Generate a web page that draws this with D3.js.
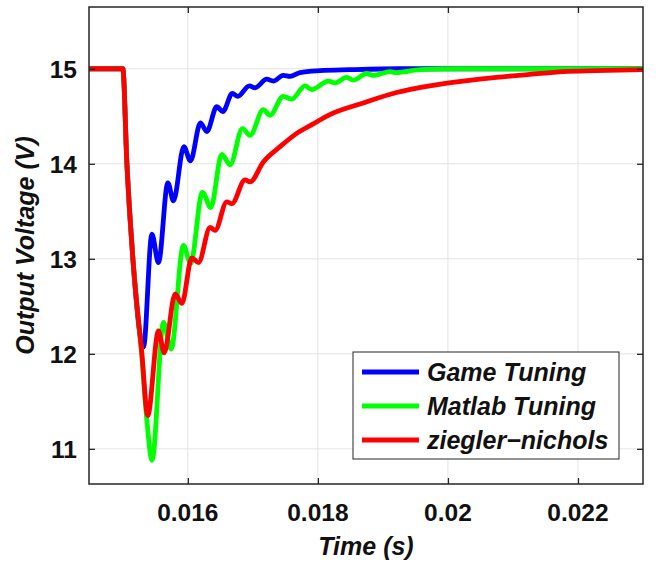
<!DOCTYPE html>
<html lang="en">
<head>
    <meta charset="UTF-8">
    <title>Output Voltage</title>
    <script src="https://d3js.org/d3.v7.min.js"></script>
    <style>
        body { margin: 0; background: white; font-family: "Liberation Sans", Arial, sans-serif; }
        svg { display: block; }
        .grid line { stroke: #e3e3e3; stroke-width: 1; }
        .tick-label { font-size: 24.5px; font-weight: bold; fill: #111; }
        .axis-title { font-size: 25px; font-weight: bold; font-style: italic; fill: #111; }
        .legend-text { font-size: 25px; font-weight: bold; font-style: italic; fill: #111; }
    </style>
</head>
<body>
    <svg id="chart"></svg>

    <script>
        // [time (s), voltage (V)]
        const gameTuning = [
            [0.01448, 15], [0.015, 15], [0.015063, 14], [0.015155, 13], [0.015318, 12.07],
            [0.015447, 13.26], [0.015548, 12.96], [0.015693, 13.80], [0.015779, 13.61],
            [0.015939, 14.18], [0.01604, 14.03], [0.016194, 14.43], [0.016292, 14.34],
            [0.016445, 14.60], [0.016538, 14.55], [0.016685, 14.74], [0.016768, 14.71],
            [0.016946, 14.82], [0.017034, 14.80], [0.017213, 14.89], [0.017315, 14.87],
            [0.017468, 14.93], [0.017571, 14.92], [0.017725, 14.96], [0.018032, 14.98],
            [0.018493, 14.99], [0.019261, 15], [0.023, 15]
        ];
        const matlabTuning = [
            [0.01448, 15], [0.015, 15], [0.015063, 14], [0.015155, 13], [0.01529, 12],
            [0.01537, 11.3], [0.01545, 10.88], [0.015625, 12.33], [0.015743, 12.05],
            [0.015932, 13.14], [0.016043, 12.95], [0.016224, 13.70], [0.016353, 13.54],
            [0.016522, 14.10], [0.01665, 13.99], [0.016839, 14.37], [0.016957, 14.30],
            [0.017161, 14.57], [0.017264, 14.51], [0.017468, 14.71], [0.017597, 14.68],
            [0.017802, 14.82], [0.017905, 14.78], [0.01816, 14.87], [0.018263, 14.85],
            [0.018442, 14.91], [0.018544, 14.88], [0.018749, 14.95], [0.018851, 14.93],
            [0.019107, 14.97], [0.0192, 14.96], [0.019568, 14.99], [0.020183, 15], [0.023, 15]
        ];
        const zieglerNichols = [
            [0.01448, 15], [0.015, 15], [0.015063, 14], [0.015155, 13], [0.015293, 12],
            [0.015383, 11.35], [0.015548, 12.24], [0.015636, 12.01], [0.015805, 12.63],
            [0.015908, 12.53], [0.016061, 13.01], [0.016163, 12.96], [0.016343, 13.33],
            [0.016419, 13.30], [0.016599, 13.60], [0.016676, 13.58], [0.01688, 13.83],
            [0.016957, 13.81], [0.017161, 14.02], [0.017418, 14.18], [0.017674, 14.32],
            [0.017929, 14.42], [0.01816, 14.51], [0.018697, 14.64], [0.01921, 14.75],
            [0.019722, 14.82], [0.020233, 14.87], [0.020746, 14.91], [0.021258, 14.94],
            [0.021769, 14.97], [0.022282, 14.98], [0.023, 14.99]
        ];

        const seriesNames = ["Game Tuning", "Matlab Tuning", "ziegler\u2212nichols"];
        const seriesColors = ["#0000ff", "#00ff00", "#ff0000"];
        const xTicks = [0.016, 0.018, 0.02, 0.022];
        const yTicks = [11, 12, 13, 14, 15];

        const width = 660, height = 563;
        const margin = { left: 89, top: 7, right: 17, bottom: 79 };
        const w = width - margin.left - margin.right;
        const h = height - margin.top - margin.bottom;

        const svg = d3.select("#chart").attr("width", width).attr("height", height);
        const g = svg.append("g").attr("transform", `translate(${margin.left},${margin.top})`);

        const x = d3.scaleLinear().domain([0.01448, 0.023]).range([0, w]);
        const y = d3.scaleLinear().domain([10.63, 15.65]).range([h, 0]);

        // grid
        const grid = g.append("g").attr("class", "grid");
        grid.selectAll(".gx").data(xTicks).enter().append("line")
            .attr("x1", d => x(d)).attr("x2", d => x(d)).attr("y1", 0).attr("y2", h);
        grid.selectAll(".gy").data(yTicks).enter().append("line")
            .attr("x1", 0).attr("x2", w).attr("y1", d => y(d)).attr("y2", d => y(d));

        // lines
        g.append("defs").append("clipPath").attr("id", "clip")
            .append("rect").attr("width", w).attr("height", h);

        const line = d3.line().x(d => x(d[0])).y(d => y(d[1])).curve(d3.curveMonotoneX);
        [gameTuning, matlabTuning, zieglerNichols].forEach((data, i) => {
            g.append("path")
                .datum(data)
                .attr("clip-path", "url(#clip)")
                .attr("fill", "none")
                .attr("stroke", seriesColors[i])
                .attr("stroke-width", 4.8)
                .attr("stroke-linejoin", "round")
                .attr("d", line);
        });

        // axes: box with inward ticks on all sides
        const tickLen = 6;
        const axisColor = "#262626";
        g.append("g").attr("transform", `translate(0,${h})`)
            .call(d3.axisBottom(x).tickValues(xTicks).tickSizeInner(-tickLen).tickSizeOuter(0).tickFormat(""));
        g.append("g")
            .call(d3.axisTop(x).tickValues(xTicks).tickSizeInner(-tickLen).tickSizeOuter(0).tickFormat(""));
        g.append("g")
            .call(d3.axisLeft(y).tickValues(yTicks).tickSizeInner(-tickLen).tickSizeOuter(0).tickFormat(""));
        g.append("g").attr("transform", `translate(${w},0)`)
            .call(d3.axisRight(y).tickValues(yTicks).tickSizeInner(-tickLen).tickSizeOuter(0).tickFormat(""));
        g.selectAll(".domain").remove();
        g.selectAll(".tick line").attr("stroke", axisColor).attr("stroke-width", 1.3);
        g.append("rect").attr("width", w).attr("height", h)
            .attr("fill", "none").attr("stroke", axisColor).attr("stroke-width", 1.5);

        // tick labels
        g.selectAll(".xl").data(xTicks).enter().append("text")
            .attr("class", "tick-label")
            .attr("x", d => x(d)).attr("y", h + 37)
            .attr("text-anchor", "middle")
            .text(d => d3.format("")(d));
        g.selectAll(".yl").data(yTicks).enter().append("text")
            .attr("class", "tick-label")
            .attr("x", -12).attr("y", d => y(d) + 9)
            .attr("text-anchor", "end")
            .text(d => d);

        // axis titles
        g.append("text").attr("class", "axis-title")
            .attr("x", w / 2).attr("y", h + 71)
            .attr("text-anchor", "middle")
            .text("Time (s)");
        g.append("text").attr("class", "axis-title")
            .attr("transform", `translate(-55,${h / 2}) rotate(-90)`)
            .attr("text-anchor", "middle")
            .text("Output Voltage (V)");

        // legend
        const lg = g.append("g").attr("transform", `translate(${353 - margin.left},${352 - margin.top})`);
        lg.append("rect").attr("width", 266).attr("height", 107)
            .attr("fill", "white").attr("stroke", axisColor).attr("stroke-width", 1);
        seriesNames.forEach((name, i) => {
            const ly = 20 + i * 34;
            lg.append("line")
                .attr("x1", 9).attr("x2", 66).attr("y1", ly).attr("y2", ly)
                .attr("stroke", seriesColors[i]).attr("stroke-width", 4.8);
            lg.append("text").attr("class", "legend-text")
                .attr("x", 74).attr("y", ly + 9)
                .text(name);
        });
    </script>
</body>
</html>
